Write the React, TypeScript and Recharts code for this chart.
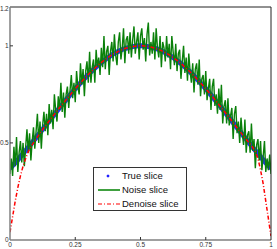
import { LineChart, Line, XAxis, YAxis, Legend } from "recharts";

const xTicks = [0, 0.25, 0.5, 0.75, 1];
const yTicks = [0, 0.5, 1, 1.2];
const seriesNames = ["True slice", "Noise slice", "Denoise slice"];

// sampled every 0.01
const trueSlice = [
  0.368, 0.383, 0.398, 0.413, 0.429, 0.445, 0.461, 0.477, 0.494, 0.51, 0.527,
  0.544, 0.561, 0.578, 0.595, 0.613, 0.63, 0.647, 0.664, 0.681, 0.698, 0.714,
  0.731, 0.747, 0.763, 0.779, 0.794, 0.809, 0.824, 0.838, 0.852, 0.866, 0.878,
  0.891, 0.903, 0.914, 0.925, 0.935, 0.944, 0.953, 0.961, 0.968, 0.975, 0.981,
  0.986, 0.99, 0.994, 0.996, 0.998, 1.0, 1.0, 1.0, 0.998, 0.996, 0.994, 0.99,
  0.986, 0.981, 0.975, 0.968, 0.961, 0.953, 0.944, 0.935, 0.925, 0.914, 0.903,
  0.891, 0.878, 0.866, 0.852, 0.838, 0.824, 0.809, 0.794, 0.779, 0.763, 0.747,
  0.731, 0.714, 0.698, 0.681, 0.664, 0.647, 0.63, 0.613, 0.595, 0.578, 0.561,
  0.544, 0.527, 0.51, 0.494, 0.477, 0.461, 0.445, 0.429, 0.413, 0.398, 0.383,
  0.368,
];

const denoiseSlice = [
  0.04, 0.12, 0.2, 0.27, 0.33, 0.38, 0.42, 0.455, 0.48, 0.5, 0.52, 0.54,
  0.561, 0.578, 0.595, 0.613, 0.63, 0.647, 0.664, 0.681, 0.698, 0.714, 0.731,
  0.747, 0.763, 0.779, 0.794, 0.809, 0.824, 0.838, 0.852, 0.866, 0.878, 0.891,
  0.903, 0.914, 0.925, 0.935, 0.944, 0.953, 0.961, 0.968, 0.975, 0.981, 0.986,
  0.99, 0.994, 0.996, 0.998, 1.0, 1.0, 1.0, 0.998, 0.996, 0.994, 0.99, 0.986,
  0.981, 0.975, 0.968, 0.961, 0.953, 0.944, 0.935, 0.925, 0.914, 0.903, 0.891,
  0.878, 0.866, 0.852, 0.838, 0.824, 0.809, 0.794, 0.779, 0.763, 0.747, 0.731,
  0.714, 0.698, 0.681, 0.664, 0.647, 0.63, 0.613, 0.595, 0.578, 0.561, 0.544,
  0.527, 0.51, 0.494, 0.477, 0.455, 0.42, 0.36, 0.29, 0.2, 0.11, 0.02,
];

// sampled every 0.005
const noiseSlice = [
  0.34, 0.42, 0.33, 0.48, 0.38, 0.53, 0.35, 0.45, 0.51, 0.4,
  0.5, 0.38, 0.48, 0.57, 0.45, 0.55, 0.41, 0.51, 0.58, 0.47,
  0.56, 0.65, 0.5, 0.61, 0.47, 0.59, 0.66, 0.56, 0.65, 0.54,
  0.7, 0.6, 0.67, 0.57, 0.75, 0.67, 0.61, 0.74, 0.67, 0.81,
  0.66, 0.76, 0.63, 0.75, 0.79, 0.68, 0.77, 0.85, 0.73, 0.81,
  0.71, 0.87, 0.79, 0.75, 0.91, 0.8, 0.88, 0.74, 0.87, 0.92,
  0.81, 0.97, 0.81, 0.89, 0.93, 0.81, 0.98, 0.89, 0.94, 0.85,
  0.99, 0.89, 1.05, 0.88, 0.97, 1.0, 0.85, 0.97, 1.02, 0.92,
  1.06, 0.95, 0.9, 1.02, 1.07, 0.93, 0.99, 1.09, 0.91, 1.03,
  1.05, 0.96, 1.07, 0.94, 1.03, 1.1, 0.96, 1.02, 1.07, 0.93,
  1.05, 1.09, 0.98, 1.04, 0.92, 1.06, 1.12, 0.95, 1.02, 0.96,
  1.07, 0.93, 1.09, 0.99, 0.94, 1.05, 0.89, 1.02, 0.99, 0.92,
  1.05, 0.94, 1.01, 0.88, 1.05, 0.97, 0.9, 1.01, 0.87, 0.96,
  0.98, 0.83, 0.92, 1.0, 0.86, 0.94, 0.82, 0.96, 0.87, 0.81,
  0.91, 0.76, 0.88, 0.91, 0.8, 0.93, 0.74, 0.83, 0.85, 0.75,
  0.87, 0.72, 0.78, 0.83, 0.67, 0.79, 0.83, 0.69, 0.75, 0.65,
  0.78, 0.67, 0.8, 0.6, 0.69, 0.72, 0.6, 0.73, 0.59, 0.64,
  0.68, 0.52, 0.65, 0.69, 0.55, 0.61, 0.5, 0.63, 0.55, 0.49,
  0.62, 0.45, 0.54, 0.56, 0.45, 0.6, 0.46, 0.52, 0.37, 0.49,
  0.52, 0.41, 0.51, 0.36, 0.43, 0.51, 0.35, 0.42, 0.36, 0.44,
  0.34,
];

const coarseData = trueSlice.map((v, i) => ({
  x: i / 100,
  t: v,
  d: denoiseSlice[i],
}));
const fineData = noiseSlice.map((v, i) => ({ x: i / 200, n: v }));

const font = "'Liberation Sans', Arial, sans-serif";
const TICK = 3;

// axes are 1px thick with tickSize 0, so x/y passed in is the axis line itself
function LeftTick({ x, y, payload }: any) {
  const v = payload.value;
  return (
    <g>
      {v > 0 && v < 1.2 && (
        <line x1={x} x2={x + TICK} y1={y} y2={y} stroke="#333" />
      )}
      <text
        x={x - 1.5}
        y={y}
        dy={2.3}
        textAnchor="end"
        fontSize={6.5}
        letterSpacing={-0.2}
        fill="#333"
        fontFamily={font}
      >
        {v}
      </text>
    </g>
  );
}

function BottomTick({ x, y, payload }: any) {
  const v = payload.value;
  return (
    <g>
      {v > 0 && v < 1 && (
        <line x1={x} x2={x} y1={y} y2={y - TICK} stroke="#333" />
      )}
      <text
        x={x}
        y={y}
        dy={6.5}
        textAnchor="middle"
        fontSize={6.5}
        fill="#333"
        fontFamily={font}
      >
        {v}
      </text>
    </g>
  );
}

function TopTick({ x, y, payload }: any) {
  const v = payload.value;
  if (v <= 0 || v >= 1) return <g />;
  return <line x1={x} x2={x} y1={y} y2={y + TICK} stroke="#333" />;
}

function RightTick({ x, y, payload }: any) {
  const v = payload.value;
  if (v <= 0 || v >= 1.2) return <g />;
  return <line x1={x} x2={x - TICK} y1={y} y2={y} stroke="#333" />;
}

function LegendBox() {
  const rows = [9, 23, 37];
  return (
    <svg width={94} height={44} style={{ display: "block" }}>
      <rect x={0.5} y={0.5} width={93} height={43} fill="#fff" stroke="#333" />
      {/* star marker */}
      <g stroke="#2020ff" strokeWidth={1}>
        <line x1={13.5} x2={16.5} y1={rows[0]} y2={rows[0]} />
        <line x1={15} x2={15} y1={rows[0] - 1.5} y2={rows[0] + 1.5} />
        <line x1={14} x2={16} y1={rows[0] - 1} y2={rows[0] + 1} />
        <line x1={14} x2={16} y1={rows[0] + 1} y2={rows[0] - 1} />
      </g>
      <line x1={5} x2={27} y1={rows[1]} y2={rows[1]} stroke="#008000" strokeWidth={1.5} />
      <line
        x1={5}
        x2={27}
        y1={rows[2]}
        y2={rows[2]}
        stroke="#ff0000"
        strokeWidth={1.2}
        strokeDasharray="4 2 1 2"
      />
      {seriesNames.map((name, i) => (
        <text
          key={name}
          x={29}
          y={rows[i]}
          dy={3.3}
          fontSize={9.5}
          fill="#111"
          fontFamily={font}
        >
          {name}
        </text>
      ))}
    </svg>
  );
}

export default function App() {
  return (
    <div style={{ position: "absolute", left: 0, top: 0 }}>
      <LineChart
        width={277}
        height={249}
        margin={{ top: 6, right: 5, bottom: 8, left: 9 }}
      >
        <XAxis
          xAxisId="b"
          type="number"
          dataKey="x"
          domain={[0, 1]}
          ticks={xTicks}
          height={1}
          tickSize={0}
          tickMargin={0}
          tick={<BottomTick />}
          axisLine={{ stroke: "#808080", strokeWidth: 1.5 }}
          tickLine={false}
          allowDataOverflow
        />
        <XAxis
          xAxisId="t"
          orientation="top"
          type="number"
          dataKey="x"
          domain={[0, 1]}
          ticks={xTicks}
          height={1}
          tickSize={0}
          tickMargin={0}
          tick={<TopTick />}
          axisLine={{ stroke: "#222", strokeWidth: 1 }}
          tickLine={false}
        />
        <YAxis
          yAxisId="l"
          type="number"
          domain={[0, 1.2]}
          ticks={yTicks}
          width={1}
          tickSize={0}
          tickMargin={0}
          tick={<LeftTick />}
          axisLine={{ stroke: "#808080", strokeWidth: 1.5 }}
          tickLine={false}
          allowDataOverflow
        />
        <YAxis
          yAxisId="r"
          orientation="right"
          type="number"
          domain={[0, 1.2]}
          ticks={yTicks}
          width={1}
          tickSize={0}
          tickMargin={0}
          tick={<RightTick />}
          axisLine={{ stroke: "#222", strokeWidth: 1 }}
          tickLine={false}
        />
        <Line
          xAxisId="b"
          yAxisId="l"
          data={coarseData}
          dataKey="t"
          name={seriesNames[0]}
          stroke="#2a2aff"
          strokeWidth={5}
          dot={false}
          isAnimationActive={false}
        />
        <Line
          xAxisId="b"
          yAxisId="l"
          data={fineData}
          dataKey="n"
          name={seriesNames[1]}
          stroke="#0a800a"
          strokeWidth={1.4}
          dot={false}
          isAnimationActive={false}
        />
        <Line
          xAxisId="b"
          yAxisId="l"
          data={coarseData}
          dataKey="d"
          name={seriesNames[2]}
          stroke="#ff0000"
          strokeWidth={1.5}
          strokeDasharray="4 2 1 2"
          dot={false}
          isAnimationActive={false}
        />
        <Legend
          layout="vertical"
          align="center"
          verticalAlign="middle"
          wrapperStyle={{ left: 93, top: 167, width: 94, height: 44 }}
          content={() => <LegendBox />}
        />
      </LineChart>
    </div>
  );
}
